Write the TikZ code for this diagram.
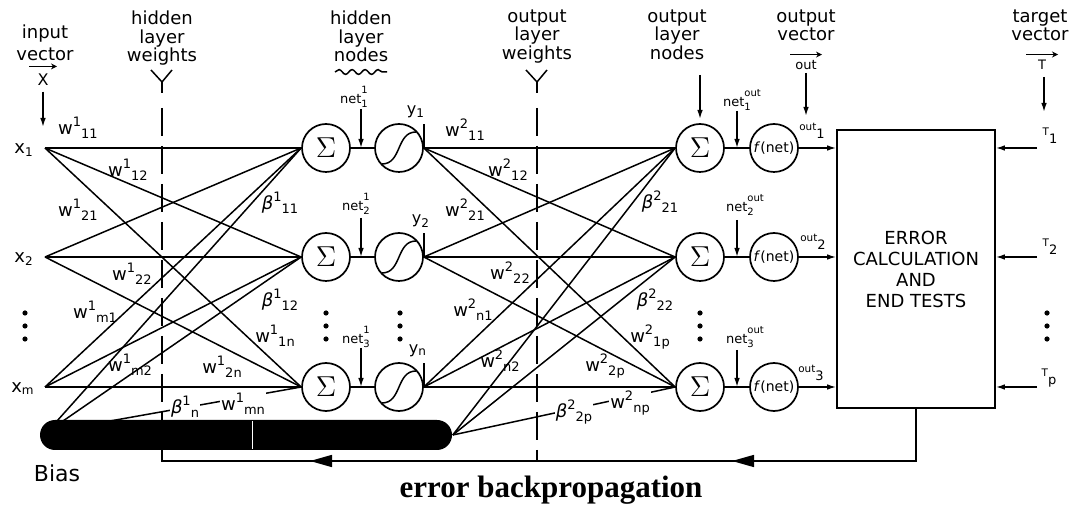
\documentclass[tikz,border=0pt]{standalone}
\usepackage{fontspec}
\setmainfont{DejaVu Sans}
\newfontfamily\titlefont{Liberation Serif}
\usetikzlibrary{arrows.meta,decorations.pathmorphing}

% weight label: upper index, then lower index after it
\newcommand{\ix}[3]{#1{\fontsize{6.5}{6}\selectfont\raisebox{3.8pt}{#2}\raisebox{-2.2pt}{#3}}}
% net label: upper and lower index stacked
\newcommand{\nx}[3]{#1{\fontsize{5}{5}\selectfont\raisebox{-2pt}{\shortstack[l]{#2\\#3}}}}
% small raised name with a lower index after it
\newcommand{\rs}[2]{{\fontsize{5.2}{5}\selectfont\raisebox{2.5pt}{#1}}{\fontsize{6.5}{6}\selectfont\raisebox{-1.5pt}{#2}}}

\begin{document}
\begin{tikzpicture}[x=0.5pt,y=-0.5pt,line width=0.75pt,
  sumnode/.style={draw,circle,minimum size=24pt,inner sep=0pt,line width=0.85pt,font=\fontsize{14}{14}\selectfont},
  sigmnode/.style={draw,circle,minimum size=24pt,inner sep=0pt,line width=0.85pt},
  fnode/.style={draw,circle,minimum size=24pt,inner sep=0pt,line width=0.85pt,font=\fontsize{7}{7}\selectfont},
  toplab/.style={align=center,anchor=north,inner sep=0pt,font=\fontsize{9}{9.3}\selectfont},
  lab/.style={inner sep=0.5pt,font=\fontsize{9}{9}\selectfont},
  netlab/.style={inner sep=0.5pt,font=\fontsize{6.5}{6.5}\selectfont},
  gaplab/.style={lab,fill=white,inner sep=0.5pt},
  sarrow/.style={-{Latex[length=4.5pt,width=2.8pt]}},
  vecarrow/.style={-{Stealth[length=3pt,width=3pt]},line width=0.6pt},
  weightline/.style={dash pattern=on 14pt off 5pt},
  backtip/.style={-{Triangle[length=11pt,width=6pt]}}
]
\useasboundingbox (0,0) rectangle (1074,506);

% layers
\foreach \i/\r in {1/148,2/257,3/387}{
  \coordinate (x\i) at (45,\r);
  \node[sumnode] (hs\i) at (326,\r) {$\Sigma$};
  \node[sigmnode] (hg\i) at (399,\r) {};
  \node[sumnode] (os\i) at (700,\r) {$\Sigma$};
  \node[fnode] (of\i) at (774,\r) {\textit{f}(net)};
  \coordinate (hnT\i) at (361,{\r-39});
  \coordinate (hnB\i) at (361,\r);
  \coordinate (onT\i) at (737,{\r-37});
  \coordinate (onB\i) at (737,\r);
  \coordinate (tg\i) at (1037,\r);
  \draw ([shift={(-17,16)}]hg\i.center) .. controls ([shift={(3,16)}]hg\i.center) and ([shift={(-3,-16)}]hg\i.center) .. ([shift={(17,-16)}]hg\i.center);
}
\node[draw,line width=0.85pt,minimum width=79pt,minimum height=139pt,align=center,font=\fontsize{9}{10.5}\selectfont] (err) at (916,269) {ERROR\\CALCULATION\\AND\\END TESTS};

% weight planes
\coordinate (fk1) at (162,82);
\coordinate (fk2) at (537,82);
\coordinate (dw1) at (162,108);
\coordinate (dw2) at (537,108);
\coordinate (fbL) at (162,461);
\coordinate (fbM) at (537,461);
\coordinate (fbR) at (916,461);
\foreach \k in {1,2}{
  \draw (fk\k) -- ++(-11,-12);
  \draw (fk\k) -- ++(10,-12);
  \draw (fk\k) -- ++(0,11);
}
\draw[weightline] (dw1) -- (fbL);
\draw[weightline] (dw2) -- (fbM);

\foreach \i in {1,2,3}{
  \foreach \j in {1,2,3}{
    \draw (x\i) -- (hs\j.west);
    \draw (hg\i.east) -- (os\j.west);
  }
  \draw (hs\i) -- (hg\i);
  \draw (os\i) -- (of\i);
  \draw[sarrow] (hnT\i) -- (hnB\i);
  \draw[sarrow] (onT\i) -- (onB\i);
  \draw[sarrow] (of\i.east) -- (of\i.east -| err.west);
  \draw[sarrow] (tg\i) -- (tg\i -| err.east);
  \draw (hg\i.east) -- ++(0,-24);
}

% bias
\node[fill=black,rounded corners=7.5pt,minimum width=206pt,minimum height=15pt,inner sep=0pt] (bias) at (246,435) {};
\draw[white,line width=0.4pt] (252,421) -- (252,449);
\coordinate (b1) at (57,421);
\coordinate (b2) at (63,421);
\coordinate (b3) at (110,421);
\draw (b1) -- (hs1.west);
\draw (b2) -- (hs2.west);
\draw (b3) -- (hs3.west);
\foreach \j in {1,2,3} \draw (bias.east) -- (os\j.west);
\node[font=\fontsize{11}{11}\selectfont] (biaslab) at (57,473) {Bias};

% error feedback
\coordinate (tipA) at (732,461);
\coordinate (tipB) at (310,461);
\draw (err.south) -- (fbR) -- (fbL) -- (bias.south -| fbL);
\draw[backtip] (fbR) -- (tipA);
\draw[backtip] (fbR) -- (tipB);
\node[font={\titlefont\bfseries\fontsize{15.5}{16}\selectfont}] (ebp) at (551,490) {error backpropagation};

% top captions
\node[toplab,font=\fontsize{9}{11}\selectfont] (inlab) at (45,24) {input\\vector};
\node[toplab] (hwlab) at (162,10) {hidden\\layer\\weights};
\node[toplab] (hnlab) at (361,10) {hidden\\layer\\nodes};
\node[toplab] (owlab) at (537,9) {output\\layer\\weights};
\node[toplab] (onlab) at (677,9) {output\\layer\\nodes};
\node[toplab] (ovlab) at (806,9) {output\\vector};
\node[toplab] (tvlab) at (1040,9) {target\\vector};
\draw[decorate,decoration={snake,segment length=6.5pt,amplitude=1.2pt}] (335,72) -- (387,72);

\node[lab,font=\fontsize{8}{8}\selectfont] (inX) at (43,80) {X};
\node[netlab] (outv) at (806,65) {out};
\node[netlab] (tgT) at (1042,65) {T};
\draw[vecarrow] ([xshift=-7pt,yshift=3pt]inX.north) -- ([xshift=7pt,yshift=3pt]inX.north);
\draw[vecarrow] ([xshift=-8pt,yshift=2pt]outv.north) -- ([xshift=8pt,yshift=2pt]outv.north);
\draw[vecarrow] ([xshift=-8pt,yshift=2pt]tgT.north) -- ([xshift=8pt,yshift=2pt]tgT.north);

\coordinate (inA) at (43,127);
\coordinate (onS) at (700,75);
\coordinate (onA) at (700,119);
\coordinate (ovS) at (806,73);
\coordinate (ovA) at (806,116);
\coordinate (tvS) at (1044,77);
\coordinate (tvA) at (1044,112);
\draw[sarrow] ([yshift=-2pt]inX.south) -- (inA);
\draw[sarrow] (onS) -- (onA);
\draw[sarrow] (ovS) -- (ovA);
\draw[sarrow] (tvS) -- (tvA);

% inputs and outputs
\node[lab] (x1lab) at (24,150) {x\textsubscript{1}};
\node[lab] (x2lab) at (24,259) {x\textsubscript{2}};
\node[lab] (xmlab) at (23,389) {x\textsubscript{m}};
\node[lab,font=\fontsize{8}{8}\selectfont] (y1lab) at (416,112) {y\textsubscript{1}};
\node[lab,font=\fontsize{8}{8}\selectfont] (y2lab) at (421,221) {y\textsubscript{2}};
\node[lab,font=\fontsize{8}{8}\selectfont] (ynlab) at (418,351) {y\textsubscript{n}};
\node[lab] (o1lab) at (812,131) {\rs{out}{1}};
\node[lab] (o2lab) at (813,242) {\rs{out}{2}};
\node[lab] (o3lab) at (811,373) {\rs{out}{3}};
\node[lab] (t1lab) at (1050,136) {\rs{T}{1}};
\node[lab] (t2lab) at (1050,247) {\rs{T}{2}};
\node[lab] (tplab) at (1049,378) {\rs{T}{p}};

% net inputs
\node[netlab] (hn1lab) at (354,97) {\nx{net}{1}{1}};
\node[netlab] (hn2lab) at (356,204) {\nx{net}{1}{2}};
\node[netlab] (hn3lab) at (356,337) {\nx{net}{1}{3}};
\node[netlab] (on1lab) at (742,100) {\nx{net}{out}{1}};
\node[netlab] (on2lab) at (745,205) {\nx{net}{out}{2}};
\node[netlab] (on3lab) at (745,337) {\nx{net}{out}{3}};

% hidden layer weights
\node[lab] at (78,128) {\ix{w}{1}{11}};
\node[lab] at (128,170) {\ix{w}{1}{12}};
\node[lab] at (78,210) {\ix{w}{1}{21}};
\node[lab] at (132,274) {\ix{w}{1}{22}};
\node[lab] at (95,312) {\ix{w}{1}{m1}};
\node[lab] at (280,203) {\ix{\textit{β}}{1}{11}};
\node[lab] at (280,300) {\ix{\textit{β}}{1}{12}};
\node[lab] at (275,336) {\ix{w}{1}{1n}};
\node[lab] at (130,365) {\ix{w}{1}{m2}};
\node[lab] at (222,367) {\ix{w}{1}{2n}};
\node[gaplab] at (185,407) {\ix{\textit{β}}{1}{n}};
\node[gaplab] at (243,404) {\ix{w}{1}{mn}};

% output layer weights
\node[lab] at (465,130) {\ix{w}{2}{11}};
\node[lab] at (508,170) {\ix{w}{2}{12}};
\node[lab] at (465,210) {\ix{w}{2}{21}};
\node[lab] at (510,273) {\ix{w}{2}{22}};
\node[lab] at (473,310) {\ix{w}{2}{n1}};
\node[lab] at (660,202) {\ix{\textit{β}}{2}{21}};
\node[lab] at (655,300) {\ix{\textit{β}}{2}{22}};
\node[lab] at (650,337) {\ix{w}{2}{1p}};
\node[lab] at (500,361) {\ix{w}{2}{n2}};
\node[lab] at (605,366) {\ix{w}{2}{2p}};
\node[gaplab] at (574,412) {\ix{\textit{β}}{2}{2p}};
\node[gaplab] at (630,403) {\ix{w}{2}{np}};

% dots
\foreach \xx in {25,326,400,700,1047}
  \foreach \yy in {313,326,339}
    \fill (\xx,\yy) circle (1.3pt);
\end{tikzpicture}
\end{document}
